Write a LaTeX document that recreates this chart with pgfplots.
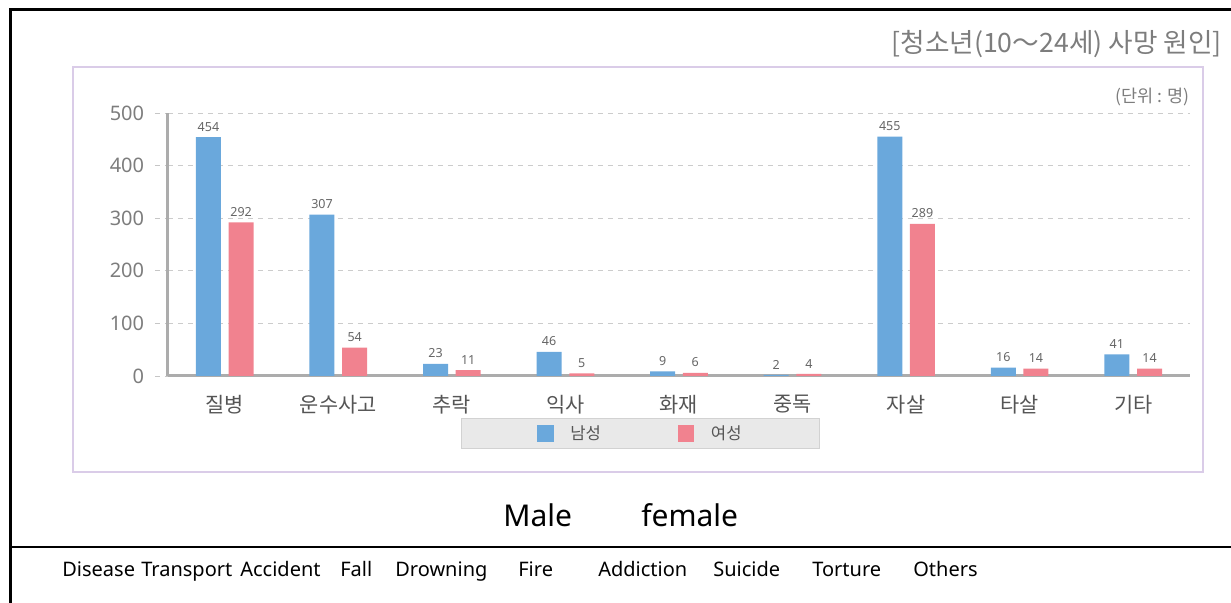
\documentclass[border=0pt]{standalone}
\usepackage{fontspec}
\setmainfont{Noto Sans}
\newfontfamily\kr{Noto Sans CJK KR}
\usepackage{pgfplots}
\pgfplotsset{compat=1.18}
\definecolor{mblue}{RGB}{106,168,220}
\definecolor{mpink}{RGB}{241,130,143}
\definecolor{lav}{RGB}{218,204,232}
\definecolor{axgray}{RGB}{172,172,172}
\definecolor{txtgray}{RGB}{125,125,125}
\definecolor{catgray}{RGB}{85,85,85}
\begin{document}
\begin{tikzpicture}[x=0.6pt,y=0.6pt]
\useasboundingbox (0,0) rectangle (1231,603);
\draw[line width=1.8pt] (10,0) -- (10,593) -- (1231,593);
\draw[line width=1.5pt] (10,56) -- (1231,56);
\draw[lav, line width=1.2pt] (73,131) rectangle (1203,536);
\node[anchor=east, font=\kr\fontsize{16}{18}\selectfont, text=txtgray, inner sep=0pt] at (1222,559) {[청소년(10～24세) 사망 원인]};
\node[anchor=east, font=\kr\fontsize{10.5}{12}\selectfont, text=txtgray, inner sep=0pt] at (1190,506) {(단위 : 명)};
\begin{axis}[at={(100.8pt,136.2pt)}, anchor=south west, scale only axis,
  width=613.2pt, height=157.8pt,
  xmin=-0.5, xmax=8.5, ymin=0, ymax=500,
  axis x line*=bottom, axis y line*=left,
  axis line style={axgray, line width=1.8pt, -},
  xtick={0,...,8},
  xticklabels={질병,운수사고,추락,익사,화재,중독,자살,타살,기타},
  xticklabel style={font=\kr\fontsize{12.5}{14}\selectfont, text=catgray},
  x tick style={draw=none},
  ytick={0,100,...,500},
  y tick style={gray!45, dashed, line width=0.5pt},
  tick align=outside, major tick length=7.8pt,
  ymajorgrids, grid style={dashed, gray!40, line width=0.5pt},
  yticklabel style={font=\fontsize{12}{14}\selectfont, text=txtgray, xshift=-3pt},
  /pgf/number format/assume math mode=true,
  ybar, bar width=15pt,
  nodes near coords,
  every node near coord/.append style={font=\fontsize{7.5}{9}\selectfont, text=catgray!90},
  legend columns=2,
  legend style={at={(rel axis cs:0.4628,-0.2186)}, anchor=center,
    fill=gray!17, draw=gray!35, line width=0.6pt,
    inner xsep=45pt, inner ysep=2pt,
    font=\kr\fontsize{10}{12}\selectfont, text=catgray,
    /tikz/every odd column/.append style={column sep=8pt},
    /tikz/every even column/.append style={column sep=44pt}},
  legend image code/.code={\fill[#1] (0pt,-5pt) rectangle (10pt,5pt);},
]
\addplot[fill=mblue, draw=none, bar shift=-9.8pt] coordinates {(0,454) (1,307) (2,23) (3,46) (4,9) (5,2) (6,455) (7,16) (8,41)};
\addlegendentry{남성}
\addplot[fill=mpink, draw=none, bar shift=9.8pt] coordinates {(0,292) (1,54) (2,11) (3,5) (4,6) (5,4) (6,289) (7,14) (8,14)};
\addlegendentry{여성}
\end{axis}
\node[anchor=base west, font=\fontsize{18}{20}\selectfont, inner sep=0pt] at (503,76) {Male};
\node[anchor=base west, font=\fontsize{18}{20}\selectfont, inner sep=0pt] at (641,76) {female};
\foreach \w/\xx in {Disease/62, Transport/141, Accident/240, Fall/340, Drowning/395, Fire/518, Addiction/598, Suicide/713, Torture/812, Others/913}
  \node[anchor=base west, font=\fontsize{12}{14}\selectfont, inner sep=0pt] at (\xx,26) {\w};
\end{tikzpicture}
\end{document}
